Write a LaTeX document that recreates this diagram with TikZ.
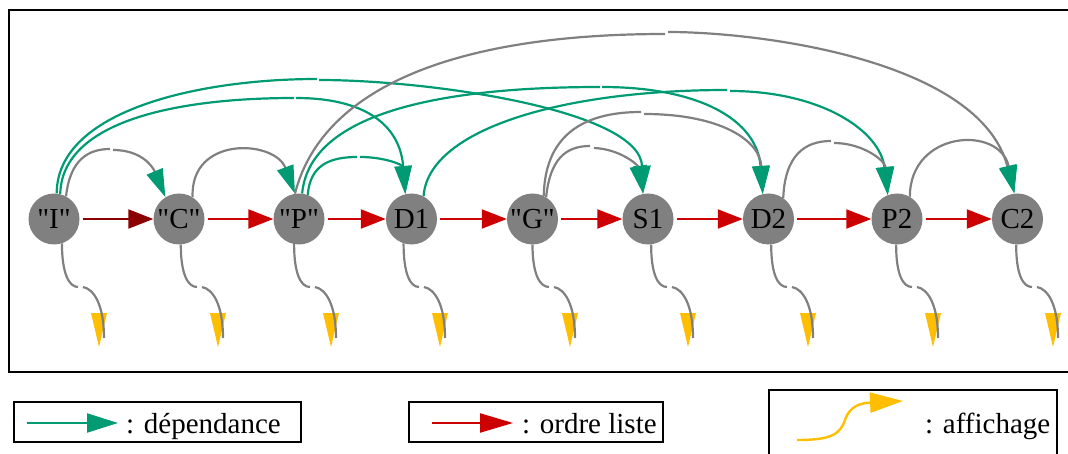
\documentclass[tikz,border=0pt]{standalone}
\usepackage{fontspec}
\setmainfont{Liberation Serif}
\usetikzlibrary{arrows.meta,calc}
\definecolor{dep}{RGB}{0,155,115}
\definecolor{ord}{RGB}{204,0,0}
\definecolor{ordd}{RGB}{139,0,0}
\definecolor{aff}{RGB}{255,190,0}
\definecolor{grayl}{RGB}{128,128,128}
\newcommand{\qq}[1]{\textquotedbl#1\textquotedbl}
\begin{document}
\begin{tikzpicture}[x=1pt,y=-1pt,
  bigfont/.style={font=\fontsize{29pt}{34pt}\selectfont},
  elt/.style={circle,fill=grayl,minimum size=51pt,inner sep=0pt,bigfont},
  deptip/.style={-{Triangle[length=28pt,width=17pt,color=dep]}},
  depline/.style={dep,line width=2.2pt,deptip},
  grayline/.style={grayl,line width=2.2pt,deptip},
  affline/.style={grayl,line width=2.2pt},
  ordline/.style={ord,line width=2.2pt,shorten <=3pt,-{Triangle[length=25pt,width=19pt]}},
  legbox/.style={draw=black,line width=2.2pt,inner sep=0pt},
  legtext/.style={bigfont,anchor=base west,inner sep=0pt}
]
\useasboundingbox (0,0) rectangle (1068,454);
\clip (0,0) rectangle (1068,454);

% outer frame
\draw[line width=2.2pt] (9,10) rectangle (1085,372);

% nodes
\node[elt] (I)  at (54,219)   {\qq{I}};
\node[elt] (C)  at (179,219)  {\qq{C}};
\node[elt] (P)  at (299,219)  {\qq{P}};
\node[elt] (D1) at (411.5,219) {D1};
\node[elt] (G)  at (532.5,219) {\qq{G}};
\node[elt] (S1) at (648,219)  {S1};
\node[elt] (D2) at (768.5,219) {D2};
\node[elt] (P2) at (897,219)  {P2};
\node[elt] (C2) at (1017.5,219) {C2};

% list order
\draw[ordline,ordd] (I) -- (C);
\draw[ordline] (C) -- (P);
\draw[ordline] (P) -- (D1);
\draw[ordline] (D1) -- (G);
\draw[ordline] (G) -- (S1);
\draw[ordline] (S1) -- (D2);
\draw[ordline] (D2) -- (P2);
\draw[ordline] (P2) -- (C2);

% dependencies
\draw[depline] (I.84) .. controls (57,110) and (200,79) .. (317,79) (319,80) .. controls (430,80) and (640,110) .. (S1.101);
\draw[depline] (I.76) .. controls (62,120) and (180,98) .. (294,98) (296,98) .. controls (365,98) and (400,125) .. (D1.104);
\draw[grayline] (I.62) .. controls (70,160) and (88,149) .. (110,149) (113,150) .. controls (140,150) and (152,165) .. (C.122);
\draw[grayline] (C.58) .. controls (190,135) and (275,140) .. (P.99);
\draw[grayline] (P.99) .. controls (320,95) and (440,34) .. (665,34) (668,32) .. controls (760,32) and (980,60) .. (C2.97);
\draw[depline] (P.83) .. controls (310,110) and (450,87) .. (600,87) (602,87) .. controls (700,87) and (757,120) .. (D2.103);
\draw[depline] (P.70) .. controls (310,165) and (330,157) .. (357,157) (360,157) .. controls (385,157) and (403,165) .. (D1.104);
\draw[depline] (D1.62) .. controls (428,130) and (560,90) .. (727,90) (730,91) .. controls (820,91) and (880,130) .. (P2.111);
\draw[grayline] (G.64) .. controls (545,130) and (590,112) .. (641,112) (644,114) .. controls (720,114) and (760,140) .. (D2.103);
\draw[grayline] (G.58) .. controls (550,160) and (565,146) .. (590,146) (594,148) .. controls (620,149) and (638,165) .. (S1.101);
\draw[grayline] (D2.55) .. controls (785,155) and (805,141) .. (831,141) (834,143) .. controls (862,143) and (885,160) .. (P2.111);
\draw[grayline] (P2.60) .. controls (910,130) and (1000,125) .. (C2.97);

% display
\foreach \n/\a/\ang in {I/99/288, C/218/274, P/331/259, D1/440/252, G/570/270, S1/688/277, D2/808/276, P2/933/268, C2/1053/267}{
  \coordinate (\n-t) at (\a,347);
  \coordinate (\n-e) at (\a+5,338);
  \fill[aff] (\a-8,313) -- (\a+8,313) -- (\n-t) -- cycle;
  \draw[affline] (\n.\ang) .. controls +(0,30) and (\a-30,287) .. (\a-21,287) (\a-16,287) .. controls (\a-5,289) and (\a+5,305) .. (\n-e);
}

% legend
\node[legbox,minimum width=287pt,minimum height=40pt] (L1) at (157.5,422) {};
\coordinate (L1a) at (27,423);
\coordinate (L1b) at (118,423);
\draw[dep,line width=2.2pt,-{Triangle[length=31pt,width=19pt]}] (L1a) -- (L1b);
\node[legtext] (L1t) at (126,433) {: dépendance};

\node[legbox,minimum width=254pt,minimum height=40pt] (L2) at (536,422) {};
\coordinate (L2a) at (432,423);
\coordinate (L2b) at (513,423);
\draw[ord,line width=2.2pt,-{Triangle[length=33pt,width=19pt]}] (L2a) -- (L2b);
\node[legtext] (L2t) at (522,433) {: ordre liste};

\node[legbox,minimum width=288pt,minimum height=90pt] (L3) at (913,435) {};
\coordinate (L3a) at (797,440);
\coordinate (L3b) at (903,401);
\draw[aff,line width=2.4pt,-{Triangle[length=33pt,width=20pt]}] (L3a) .. controls (830,440) and (840,435) .. (845,420) .. controls (850,405) and (862,403) .. (L3b);
\node[legtext] (L3t) at (925,433) {: affichage};
\end{tikzpicture}
\end{document}
